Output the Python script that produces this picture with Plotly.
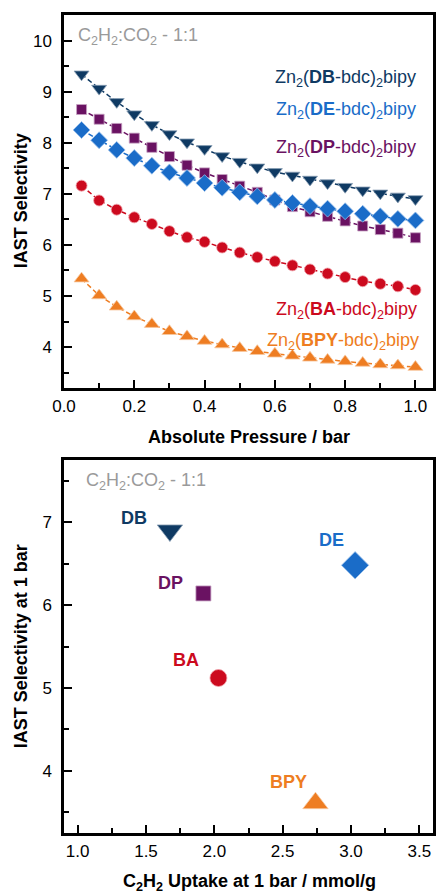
import plotly.graph_objects as go

# ---------------- data ----------------
pressure = [0.05, 0.10, 0.15, 0.20, 0.25, 0.30, 0.35, 0.40, 0.45, 0.50,
            0.55, 0.60, 0.65, 0.70, 0.75, 0.80, 0.85, 0.90, 0.95, 1.00]
sel_DB = [9.34, 9.06, 8.80, 8.56, 8.35, 8.17, 8.01, 7.88, 7.74, 7.63,
          7.52, 7.43, 7.36, 7.28, 7.21, 7.14, 7.07, 7.01, 6.95, 6.90]
sel_DE = [8.25, 8.05, 7.86, 7.70, 7.55, 7.42, 7.31, 7.21, 7.12, 7.03,
          6.95, 6.88, 6.82, 6.76, 6.71, 6.66, 6.61, 6.56, 6.51, 6.48]
sel_DP = [8.65, 8.46, 8.28, 8.09, 7.91, 7.73, 7.56, 7.41, 7.28, 7.15,
          7.03, 6.88, 6.75, 6.65, 6.56, 6.47, 6.37, 6.30, 6.23, 6.14]
sel_BA = [7.16, 6.87, 6.69, 6.54, 6.41, 6.27, 6.15, 6.06, 5.95, 5.85,
          5.76, 5.68, 5.60, 5.52, 5.44, 5.37, 5.29, 5.24, 5.19, 5.12]
sel_BPY = [5.34, 5.01, 4.79, 4.60, 4.45, 4.31, 4.21, 4.12, 4.05, 3.98,
           3.92, 3.87, 3.83, 3.79, 3.75, 3.72, 3.69, 3.66, 3.64, 3.61]

names = ["DB", "DE", "DP", "BA", "BPY"]
uptake_1bar = [1.675, 3.03, 1.92, 2.03, 2.74]   # C2H2 uptake at 1 bar (mmol/g)

x_ticks_top = [0.0, 0.2, 0.4, 0.6, 0.8, 1.0]
y_ticks_top = [4, 5, 6, 7, 8, 9, 10]
x_ticks_bot = [1.0, 1.5, 2.0, 2.5, 3.0, 3.5]
y_ticks_bot = [4, 5, 6, 7]

# ---------------- styles ----------------
series = {
    "DB": dict(y=sel_DB, color="#0f3a63", edge="#8aa0b5", symbol="triangle-down"),
    "DE": dict(y=sel_DE, color="#1a6cc8", edge="#9cc2ec", symbol="diamond"),
    "DP": dict(y=sel_DP, color="#6a1262", edge="#c7a2c3", symbol="square"),
    "BA": dict(y=sel_BA, color="#cc0a1e", edge="#f0a0a8", symbol="circle"),
    "BPY": dict(y=sel_BPY, color="#ee7d22", edge="#f8c9a2", symbol="triangle-up"),
}
top_size = {"DB": 13, "DE": 13, "DP": 10, "BA": 11, "BPY": 13}
bot_size = {"DB": 22, "DE": 21, "DP": 15, "BA": 17, "BPY": 22}

FONT = "Arial, Liberation Sans, sans-serif"
W, H = 438, 893
ML, MR, MT, MB = 64, 2, 15, 60


def px(X):
    return (X - ML) / (W - ML - MR)


def py(Y):
    return (H - MB - Y) / (H - MT - MB)


fig = go.Figure()

draw_order = ["DB", "DP", "DE", "BA", "BPY"]
for n in draw_order:
    s = series[n]
    fig.add_trace(go.Scatter(
        x=pressure, y=s["y"], mode="lines+markers",
        line=dict(color=s["color"], width=1.5, dash="5px,3px"),
        marker=dict(symbol=s["symbol"], size=top_size[n], color=s["color"],
                    line=dict(width=0.8, color=s["edge"])),
        xaxis="x", yaxis="y", showlegend=False, name=n))

for n, u in zip(names, uptake_1bar):
    s = series[n]
    fig.add_trace(go.Scatter(
        x=[u], y=[s["y"][-1]], mode="markers",
        marker=dict(symbol=s["symbol"], size=bot_size[n], color=s["color"],
                    line=dict(width=0.8, color=s["edge"])),
        xaxis="x2", yaxis="y2", showlegend=False, name=n))

axis_common = dict(
    showline=True, mirror=True, linewidth=2.5, linecolor="black",
    ticks="inside", ticklen=8, tickwidth=2, tickcolor="black",
    showgrid=False, zeroline=False,
    tickfont=dict(family=FONT, size=17, color="black"),
)

fig.update_layout(
    width=W, height=H, autosize=False,
    margin=dict(l=ML, r=MR, t=MT, b=MB),
    paper_bgcolor="white", plot_bgcolor="white",
    font=dict(family=FONT, color="black"),
    xaxis=dict(domain=[0, 1], anchor="y", range=[0, 1.05],
               tickvals=x_ticks_top, ticktext=[f"{v:.1f}" for v in x_ticks_top],
               minor=dict(dtick=0.1, tick0=0, ticks="inside", ticklen=5, tickwidth=2,
                          tickcolor="black"),
               ticklabelstandoff=1, **axis_common),
    yaxis=dict(domain=[py(388), 1], anchor="x", range=[3.2, 10.5],
               tickvals=y_ticks_top, ticktext=[str(v) for v in y_ticks_top],
               minor=dict(dtick=0.5, tick0=0, ticks="inside", ticklen=5, tickwidth=2,
                          tickcolor="black"),
               ticklabelstandoff=6, **axis_common),
    xaxis2=dict(domain=[0, 1], anchor="y2", range=[0.9, 3.6],
                tickvals=x_ticks_bot, ticktext=[f"{v:.1f}" for v in x_ticks_bot],
                minor=dict(dtick=0.25, tick0=0, ticks="inside", ticklen=5, tickwidth=2,
                           tickcolor="black"),
                ticklabelstandoff=1, **axis_common),
    yaxis2=dict(domain=[0, py(460)], anchor="x2", range=[3.25, 7.75],
                tickvals=y_ticks_bot, ticktext=[str(v) for v in y_ticks_bot],
                minor=dict(dtick=0.5, tick0=0, ticks="inside", ticklen=5, tickwidth=2,
                           tickcolor="black"),
                ticklabelstandoff=6, **axis_common),
)

ann = []


def note(text, X, Y, color="black", size=18, xanchor="center", angle=0):
    ann.append(dict(text=text, x=px(X), y=py(Y), xref="paper", yref="paper",
                    xanchor=xanchor, yanchor="middle", showarrow=False,
                    textangle=angle,
                    font=dict(size=size, family=FONT, color=color)))


# axis titles
note("<b>Absolute Pressure / bar</b>", 251, 437)
note("<b>IAST Selectivity</b>", 21, 201, angle=-90)
note("<b>C<sub>2</sub>H<sub>2</sub> Uptake at 1 bar / mmol/g</b>", 251, 882)
note("<b>IAST Selectivity at 1 bar</b>", 21, 646, angle=-90)

# gas mixture notes
mix = "C<sub>2</sub>H<sub>2</sub>:CO<sub>2</sub> - 1:1"
note(mix, 76, 36, color="#9a9a9a", xanchor="left")
note(mix, 84, 481, color="#9a9a9a", xanchor="left")

# series labels (top)
label_pos = {"DB": (421, 78), "DE": (421, 111), "DP": (421, 148),
             "BA": (422, 310), "BPY": (424, 341)}
for n in names:
    X, Y = label_pos[n]
    note(f"Zn<sub>2</sub>(<b>{n}</b>-bdc)<sub>2</sub>bipy", X, Y,
         color=series[n]["color"], xanchor="right")

# point labels (bottom)
pt_label = {"DB": (135, 518), "DE": (334, 540), "DP": (171, 583),
            "BA": (187, 660), "BPY": (290, 782)}
for n in names:
    X, Y = pt_label[n]
    note(f"<b>{n}</b>", X, Y, color=series[n]["color"])

fig.update_layout(annotations=ann)
fig.write_html("out.html")
